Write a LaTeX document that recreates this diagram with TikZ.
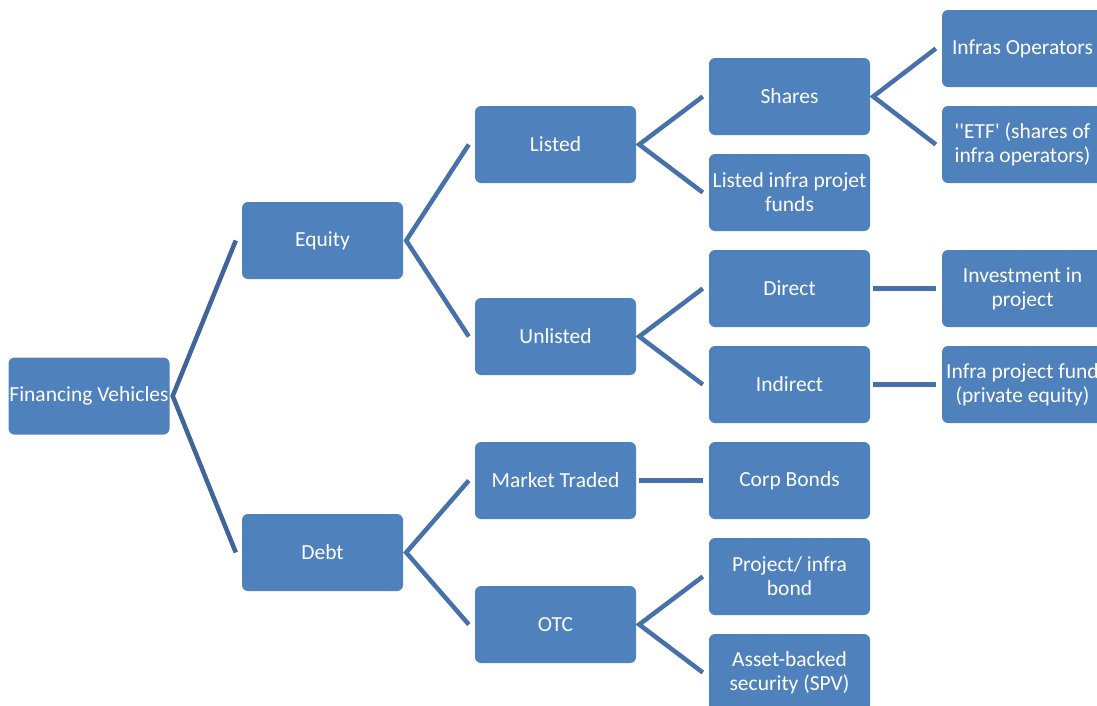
\documentclass[tikz,border=0pt]{standalone}
\usepackage{fontspec}
\setmainfont[Ligatures=TeXOff]{Carlito}
\definecolor{boxblue}{HTML}{4F81BD}
\definecolor{linkblue}{HTML}{4671AA}
\definecolor{linkdark}{HTML}{3F6599}
\begin{document}
\begin{tikzpicture}[x=1pt,y=-1pt,
  box/.style={draw=none,fill=boxblue,rounded corners=6pt,minimum width=161pt,minimum height=77pt,
    inner sep=0pt,text=white,align=center,font=\fontsize{21.5}{24}\selectfont},
  link/.style={draw=linkblue,line width=4.5pt},
  linkd/.style={draw=linkdark,line width=4.5pt}]
\useasboundingbox (0,0) rectangle (1097,705);
\clip (0,0) rectangle (1097,705);
% level 0
\node[box] (fv) at (89,396) {Financing Vehicles};
% level 1
\node[box] (eq) at (322.5,240.5) {Equity};
\node[box] (debt) at (322.5,552.5) {Debt};
% level 2
\node[box] (listed) at (555.5,144.5) {Listed};
\node[box] (unlisted) at (555.5,336.5) {Unlisted};
\node[box] (mkt) at (555.5,480.5) {Market Traded};
\node[box] (otc) at (555.5,624.5) {OTC};
% level 3
\node[box] (shares) at (789.5,96.5) {Shares};
\node[box] (lipf) at (789.5,192.5) {Listed infra projet\\funds};
\node[box] (direct) at (789.5,288.5) {Direct};
\node[box] (indirect) at (789.5,384.5) {Indirect};
\node[box] (corp) at (789.5,480.5) {Corp Bonds};
\node[box] (pib) at (789.5,576.5) {Project/ infra\\bond};
\node[box] (abs) at (789.5,672.5) {Asset-backed\\security (SPV)};
% level 4
\node[box] (ops) at (1022.5,48.5) {Infras Operators};
\node[box] (etf) at (1022.5,144.5) {''ETF' (shares of\\infra operators)};
\node[box] (inv) at (1022.5,288.5) {Investment in\\project};
\node[box] (ipf) at (1022.5,384.5) {Infra project fund\\(private equity)};
% connectors
\draw[linkd] ([xshift=-6pt]eq.west) -- ([xshift=3pt]fv.east) -- ([xshift=-6pt]debt.west);
\draw[link] ([xshift=-6pt]listed.west) -- ([xshift=3pt]eq.east) -- ([xshift=-6pt]unlisted.west);
\draw[link] ([xshift=-6pt]mkt.west) -- ([xshift=3pt]debt.east) -- ([xshift=-6pt]otc.west);
\draw[link] ([xshift=-6pt]shares.west) -- ([xshift=3pt]listed.east) -- ([xshift=-6pt]lipf.west);
\draw[link] ([xshift=-6pt]direct.west) -- ([xshift=3pt]unlisted.east) -- ([xshift=-6pt]indirect.west);
\draw[link] ([xshift=3pt]mkt.east) -- ([xshift=-6pt]corp.west);
\draw[link] ([xshift=-6pt]pib.west) -- ([xshift=3pt]otc.east) -- ([xshift=-6pt]abs.west);
\draw[link] ([xshift=-6pt]ops.west) -- ([xshift=3pt]shares.east) -- ([xshift=-6pt]etf.west);
\draw[link] ([xshift=3pt]direct.east) -- ([xshift=-6pt]inv.west);
\draw[link] ([xshift=3pt]indirect.east) -- ([xshift=-6pt]ipf.west);
\end{tikzpicture}
\end{document}
